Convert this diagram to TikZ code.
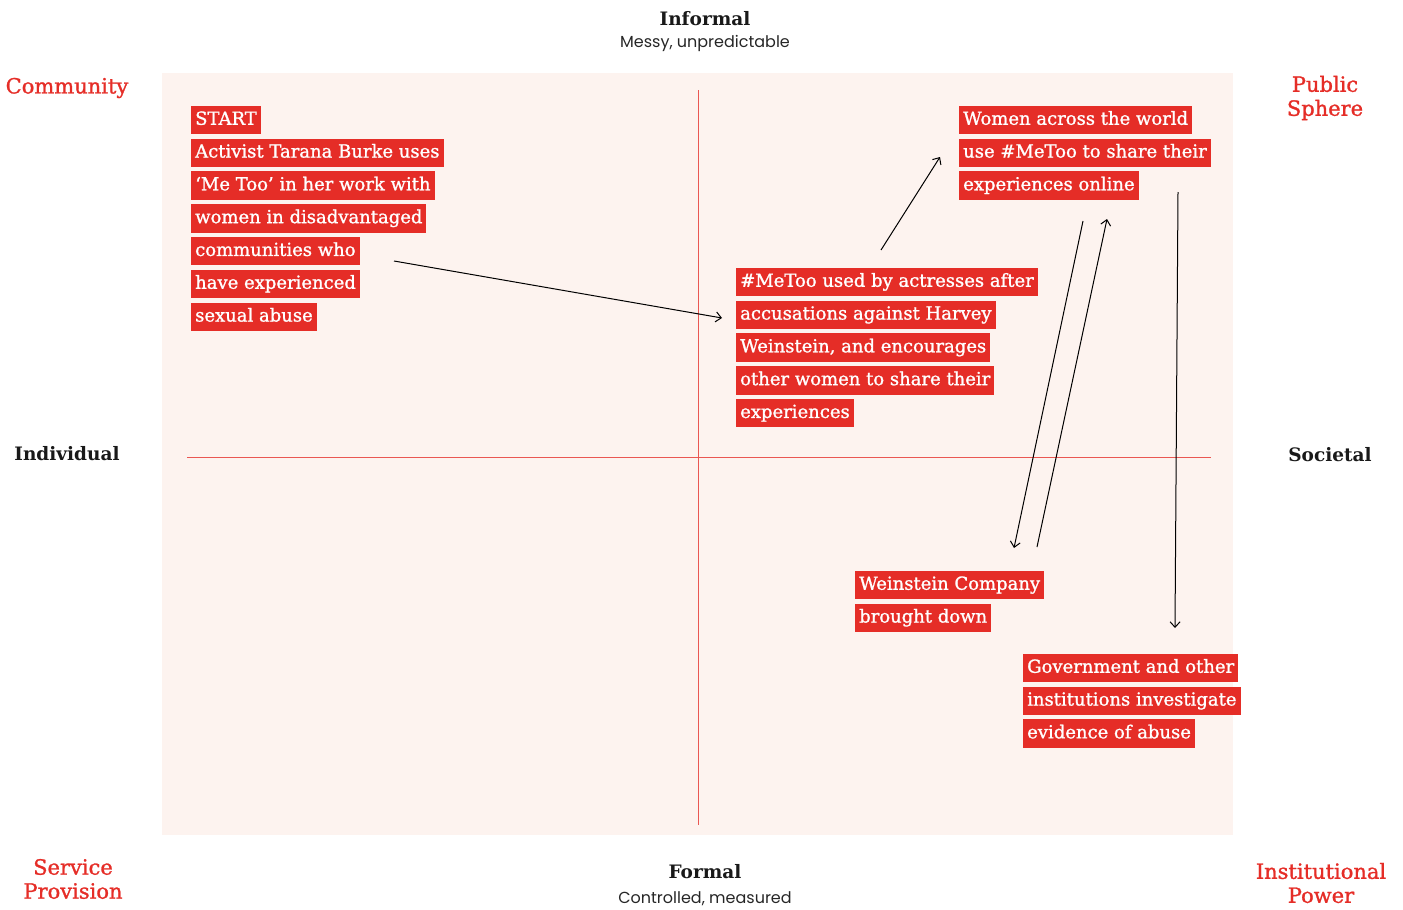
\documentclass[tikz,border=0pt]{standalone}
\usepackage{fontspec}
\setmainfont{DejaVu Serif}
\newfontfamily\boxfont{DejaVu Serif}[FakeBold=1.2]
\newfontfamily\subfont{Poppins}
\definecolor{gred}{HTML}{E52D27}
\definecolor{pale}{HTML}{FDF3EF}
\tikzset{
    hl/.style={fill=gred, text=white, anchor=west, inner xsep=4pt, inner ysep=5pt,
        text height=14pt, text depth=4.5pt, font=\boxfont\fontsize{18}{20}\selectfont},
    axis/.style={gred!80, line width=0.8pt},
    flow/.style={->, line width=1pt, >={Straight Barb[length=5.5pt,width=10pt]}},
    head/.style={font=\bfseries\fontsize{18.5}{22}\selectfont, text=black!90},
    sub/.style={font=\subfont\fontsize{16}{18}\selectfont, text=black!85},
    corner/.style={font=\boxfont\fontsize{21}{24}\selectfont, text=gred, align=center}
}
\usetikzlibrary{arrows.meta}
\begin{document}
\begin{tikzpicture}[x=1pt, y=-1pt]
    \useasboundingbox (0,0) rectangle (1403,910);
    \fill [pale] (162,73) rectangle (1233,835);
    \draw [axis] (698,90) -- (698,825);
    \draw [axis] (187,457) -- (1211,457);

    % axis labels
    \node [head] (inf) at (705,19) {Informal};
    \node [sub] (infs) at (705,43) {Messy, unpredictable};
    \node [head] (form) at (705,872) {Formal};
    \node [sub] (forms) at (705,899) {Controlled, measured};
    \node [head] (ind) at (67,454) {Individual};
    \node [head] (soc) at (1330,455) {Societal};

    % corners
    \node [corner] (com) at (67,88) {Community};
    \node [corner] (pub) at (1325,98) {Public\\Sphere};
    \node [corner] (serv) at (73,879) {Service\\Provision};
    \node [corner] (inst) at (1321,883) {Institutional\\Power};

    % text blocks
    \foreach \t [count=\i] in {START, Activist Tarana Burke uses, ‘Me Too’ in her work with,
        women in disadvantaged, communities who, have experienced, sexual abuse}
        \node [hl] (start\i) at (191,{120+32.8*(\i-1)}) {\t};
    \foreach \t [count=\i] in {\#MeToo used by actresses after, accusations against Harvey,
        {Weinstein, and encourages}, other women to share their, experiences}
        \node [hl] (actr\i) at (736,{282+32.8*(\i-1)}) {\t};
    \foreach \t [count=\i] in {Women across the world, use \#MeToo to share their, experiences online}
        \node [hl] (world\i) at (959,{120+32.8*(\i-1)}) {\t};
    \foreach \t [count=\i] in {Weinstein Company, brought down}
        \node [hl] (comp\i) at (855,{585+32.8*(\i-1)}) {\t};
    \foreach \t [count=\i] in {Government and other, institutions investigate, evidence of abuse}
        \node [hl] (gov\i) at (1023,{668+32.8*(\i-1)}) {\t};

    % arrow ends
    \coordinate (a1) at (394,261);  \coordinate (b1) at (722,318);
    \coordinate (a2) at (881,250);  \coordinate (b2) at (940,157);
    \coordinate (a3) at (1083,221); \coordinate (b3) at (1014,548);
    \coordinate (a4) at (1037,547); \coordinate (b4) at (1107,219);
    \coordinate (a5) at (1178,192); \coordinate (b5) at (1175,628);
    \foreach \i in {1,...,5}
        \draw [flow] (a\i) -- (b\i);
\end{tikzpicture}
\end{document}
